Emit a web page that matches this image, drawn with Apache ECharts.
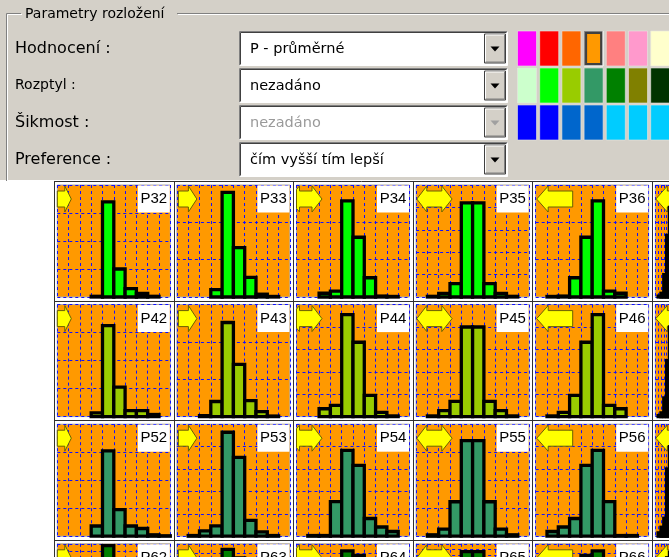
<!DOCTYPE html>
<html>
<head>
<meta charset="utf-8">
<script src="https://cdn.jsdelivr.net/npm/echarts@6/dist/echarts.min.js"></script>
<style>
  html, body { margin: 0; padding: 0; background: #ffffff; }
  #main { width: 669px; height: 557px; }
</style>
</head>
<body>
<div id="main"></div>
<script>
// ---- data -------------------------------------------------------------
// ten classes of every distribution
const binLabels = ['1', '2', '3', '4', '5', '6', '7', '8', '9', '10'];

// names of the distributions, one list per grid row
const rowNames = [
  ['P32', 'P33', 'P34', 'P35', 'P36', 'P37'],
  ['P42', 'P43', 'P44', 'P45', 'P46', 'P47'],
  ['P52', 'P53', 'P54', 'P55', 'P56', 'P57'],
  ['P62', 'P63', 'P64', 'P65', 'P66', 'P67']
];

// probabilities (%) of the classes
const p32 = [0, 0, 0, 0.5, 68, 20, 6, 2.5, 0.5, 0];
const p33 = [0, 0, 0, 4, 56, 26.5, 10.5, 1.5, 0.3, 0];
const p34 = [0, 0, 2, 3.2, 51.5, 32, 10.3, 0.5, 0.3, 0];
const p35 = [0, 0.3, 1.6, 6, 42, 42, 6, 1.6, 0.3, 0];
const p36 = [0, 0.3, 0.5, 10.3, 32, 51.5, 3.2, 2, 0, 0];
const p37 = [0, 0.5, 2, 12, 33, 48, 3, 1, 0, 0];

const p42 = [0, 0, 0, 2.7, 65, 21, 4.3, 4.3, 1.5, 0];
const p43 = [0, 0, 0.5, 8.1, 50.4, 28, 8.6, 2.7, 0.3, 0];
const p44 = [0, 0, 3.5, 5, 45.5, 33.2, 9.5, 1.9, 0.3, 0];
const p45 = [0, 0.3, 2.7, 6.8, 40, 40, 6.8, 2.7, 0.3, 0];
const p46 = [0, 0.3, 1.9, 9.5, 33.2, 45.5, 5, 3.5, 0, 0];
const p47 = [0, 0.5, 2, 10, 30, 48, 6, 3, 0, 0];

const p52 = [0, 0, 0, 7.3, 61, 19, 7.3, 5.5, 1, 0.3];
const p53 = [0, 0.3, 2.4, 4.6, 46.4, 35.2, 7.1, 1.9, 0.3, 0];
const p54 = [0, 0.3, 0.3, 15.4, 38.3, 31.6, 7.9, 4.1, 2.1, 0];
const p55 = [0, 0.5, 2.5, 12.3, 34.1, 34.1, 12.3, 2.5, 0.5, 0];
const p56 = [0, 2.1, 4.1, 7.9, 31.6, 38.3, 15.4, 0.3, 0.3, 0];
const p57 = [0, 1.5, 4, 8, 30, 40, 15, 1, 0, 0];

const p62 = [0, 0, 0, 3, 75, 14, 5, 2, 0.5, 0];
const p63 = [0, 0, 0, 5, 48, 30, 12, 3, 0.5, 0];
const p64 = [0, 0, 2, 5, 45, 35, 10, 2, 0.5, 0];
const p65 = [0, 0.5, 3, 10, 36, 36, 10, 3, 0.5, 0];
const p66 = [0, 0.5, 2, 10, 35, 45, 5, 2, 0, 0];
const p67 = [0, 1, 3, 8, 30, 42, 14, 1, 0, 0];

const rowValues = [
  [p32, p33, p34, p35, p36, p37],
  [p42, p43, p44, p45, p46, p47],
  [p52, p53, p54, p55, p56, p57],
  [p62, p63, p64, p65, p66, p67]
];

// value-axis range and step of every histogram
const rowMax = [
  [80, 60, 60, 50, 60, 60],
  [80, 60, 50, 50, 50, 60],
  [80, 50, 50, 40, 50, 50],
  [80, 60, 60, 50, 60, 60]
];
const rowStep = [
  [20, 20, 20, 10, 20, 20],
  [20, 20, 10, 10, 10, 20],
  [20, 10, 10, 10, 10, 10],
  [20, 20, 20, 10, 20, 20]
];

// bar colour of each row
const rowColors = ['#00ff00', '#99cc00', '#339966', '#008000'];

// form texts
const fieldLabels = ['Hodnocení :', 'Rozptyl :', 'Šikmost :', 'Preference :'];
const fieldValues = ['P - průměrné', 'nezadáno', 'nezadáno', 'čím vyšší tím lepší'];
const groupTitle = 'Parametry rozložení';

// colour palette
const paletteRows = [
  ['#ff00ff', '#ff0000', '#ff6600', '#ff9900', '#ff8080', '#ff99cc', '#ffffcc'],
  ['#ccffcc', '#00ff00', '#99cc00', '#339966', '#008000', '#808000', '#003300'],
  ['#0000ff', '#0000ff', '#0066cc', '#0066cc', '#00ccff', '#00ccff', '#00ccff']
];

// ---- layout -----------------------------------------------------------
const CELL = 119.6, GX = 54, GY = 181;
const PADL = 3.3, PADT = 4, PW = 113, PH = 112;
const FACE = '#d4d0c8';

const chart = echarts.init(document.getElementById('main'), null, { renderer: 'canvas' });

const grids = [], xAxes = [], yAxes = [], series = [], graphics = [];

// ---- dialog panel ----
graphics.push({ type: 'rect', shape: { x: 0, y: 0, width: 669, height: 180 }, style: { fill: FACE }, z: 0, silent: true });

// etched group frame
const etched = (pts) => {
  graphics.push({ type: 'polyline', shape: { points: pts }, style: { stroke: '#808080', lineWidth: 1, fill: null }, silent: true, z: 1 });
  graphics.push({ type: 'polyline', shape: { points: pts.map(p => [p[0] + 1, p[1] + 1]) }, style: { stroke: '#ffffff', lineWidth: 1, fill: null }, silent: true, z: 1 });
};
etched([[21, 13.5], [6.5, 13.5], [6.5, 181]]);
etched([[177, 13.5], [670, 13.5]]);
graphics.push({ type: 'text', x: 25, y: 14, style: { text: groupTitle, font: '14px "DejaVu Sans"', fill: '#000', textVerticalAlign: 'middle' }, silent: true, z: 2 });

const labelFonts = ['16px "DejaVu Sans"', '14px "DejaVu Sans"', '16px "DejaVu Sans"', '16px "DejaVu Sans"'];
const comboTop = [31.5, 68.5, 105.5, 142.5];
fieldLabels.forEach((t, i) => {
  graphics.push({ type: 'text', x: 15, y: comboTop[i] + 17, style: { text: t, font: labelFonts[i], fill: '#000', textVerticalAlign: 'middle' }, silent: true, z: 2 });
});

// sunken combo boxes with a drop-down button
fieldValues.forEach((t, i) => {
  const x0 = 239.5, y0 = comboTop[i], w = 268, h = 34;
  const disabled = i === 2;
  graphics.push({ type: 'rect', shape: { x: x0, y: y0, width: w, height: h }, style: { fill: '#ffffff' }, silent: true, z: 1 });
  graphics.push({ type: 'polyline', shape: { points: [[x0, y0 + h], [x0, y0], [x0 + w, y0]] }, style: { stroke: '#808080', lineWidth: 1, fill: null }, silent: true, z: 2 });
  graphics.push({ type: 'polyline', shape: { points: [[x0 + 1, y0 + h - 1], [x0 + 1, y0 + 1], [x0 + w - 1, y0 + 1]] }, style: { stroke: '#404040', lineWidth: 1, fill: null }, silent: true, z: 2 });
  graphics.push({ type: 'polyline', shape: { points: [[x0, y0 + h], [x0 + w, y0 + h], [x0 + w, y0]] }, style: { stroke: '#ffffff', lineWidth: 1, fill: null }, silent: true, z: 2 });
  // button
  const bx = 484.5, by = y0 + 2.5, bw = 21, bh = h - 5;
  graphics.push({ type: 'rect', shape: { x: bx, y: by, width: bw, height: bh }, style: { fill: FACE, stroke: '#404040', lineWidth: 1 }, silent: true, z: 2 });
  graphics.push({ type: 'polyline', shape: { points: [[bx + 1, by + bh - 1], [bx + 1, by + 1], [bx + bw - 1, by + 1]] }, style: { stroke: '#ffffff', lineWidth: 1, fill: null }, silent: true, z: 3 });
  graphics.push({ type: 'polyline', shape: { points: [[bx + 1, by + bh - 1], [bx + bw - 1, by + bh - 1], [bx + bw - 1, by + 1]] }, style: { stroke: '#808080', lineWidth: 1, fill: null }, silent: true, z: 3 });
  const cx = bx + bw / 2, cy = by + bh / 2 + 0.5;
  graphics.push({ type: 'polygon', shape: { points: [[cx - 4.5, cy - 2.5], [cx + 4.5, cy - 2.5], [cx, cy + 2.5]] }, style: { fill: disabled ? '#a0a0a0' : '#000000' }, silent: true, z: 3 });
  graphics.push({ type: 'text', x: 250, y: y0 + h / 2 + 0.5, style: { text: t, font: '14.5px "DejaVu Sans"', fill: disabled ? '#9a9a9a' : '#000', textVerticalAlign: 'middle' }, silent: true, z: 3 });
});

// colour swatches
paletteRows.forEach((row, r) => {
  row.forEach((c, k) => {
    const x = 517.5 + 22.2 * k, y = 31 + 37 * r;
    if (r === 0 && k === 3) {
      graphics.push({ type: 'rect', shape: { x: x, y: y, width: 19, height: 35 }, style: { fill: '#808080' }, silent: true, z: 2 });
      graphics.push({ type: 'rect', shape: { x: x + 1, y: y + 1, width: 17, height: 33 }, style: { fill: '#404040' }, silent: true, z: 2 });
      graphics.push({ type: 'rect', shape: { x: x + 3, y: y + 3, width: 13, height: 29 }, style: { fill: c }, silent: true, z: 3 });
      graphics.push({ type: 'polyline', shape: { points: [[x + 19, y], [x + 19, y + 35], [x, y + 35]] }, style: { stroke: '#ffffff', lineWidth: 1, fill: null }, silent: true, z: 3 });
    } else {
      graphics.push({ type: 'rect', shape: { x: x, y: y, width: 19, height: 35 }, style: { fill: c, stroke: '#e8e6e0', lineWidth: 0.6 }, silent: true, z: 2 });
    }
  });
});

// ---- grid of histograms ----
// cell borders
for (let r = 0; r < 4; r++) {
  const y = Math.round(GY + CELL * r) + 0.5;
  graphics.push({ type: 'line', shape: { x1: GX, y1: y, x2: 669, y2: y }, style: { stroke: '#303030', lineWidth: 1 }, silent: true, z: 1 });
}
for (let c = 0; c < 6; c++) {
  const x = Math.round(GX + CELL * c) + 0.5;
  graphics.push({ type: 'line', shape: { x1: x, y1: GY, x2: x, y2: 557 }, style: { stroke: '#303030', lineWidth: 1 }, silent: true, z: 1 });
}

// arrow outlines per grid column, x relative to plot left, y relative to arrow axis
const arrowShapes = [
  [[-12, -8], [7.5, -8], [7.5, -13], [14, 0], [7.5, 13], [7.5, 8], [-12, 8]],
  [[1.5, -8], [11.5, -8], [11.5, -13], [20, 0], [11.5, 13], [11.5, 8], [1.5, 8]],
  [[0, -9.5], [3, -13], [3, -8], [15.5, -8], [15.5, -13], [25.5, 0], [15.5, 13], [15.5, 8], [3, 8], [3, 13], [0, 9.5]],
  [[0.7, 0], [10.7, -13], [10.7, -8], [25.7, -8], [25.7, -13], [36, 0], [25.7, 13], [25.7, 8], [10.7, 8], [10.7, 13]],
  [[1, 0], [12.5, -13], [12.5, -8], [37, -8], [37, 8], [12.5, 8], [12.5, 13]],
  [[0.5, 0], [12, -13], [12, -8], [37, -8], [37, 8], [12, 8], [12, 13]]
];

// histogram columns: each class fills its whole band, outlined in black
const histogramItem = (color) => (params, api) => {
  const top = api.coord([api.value(0), api.value(1)]);
  const base = api.coord([api.value(0), 0]);
  const bw = api.size([1, 0])[0];
  return {
    type: 'rect',
    shape: { x: top[0] - bw / 2, y: top[1], width: bw, height: base[1] - top[1] },
    style: { fill: color, stroke: '#000000', lineWidth: 3.3 }
  };
};

let gi = 0;
for (let r = 0; r < 4; r++) {
  for (let c = 0; c < 6; c++) {
    const pl = GX + CELL * c + PADL;
    const pt = GY + CELL * r + PADT;
    grids.push({
      left: pl, top: pt, width: PW, height: PH,
      show: true, backgroundColor: '#ff9900', borderColor: '#a8a8a8', borderWidth: 1,
      containLabel: false
    });
    const split = { show: true, lineStyle: { color: '#1010ff', width: 1, type: [3, 3] } };
    xAxes.push({
      gridIndex: gi, type: 'category', data: binLabels, boundaryGap: true,
      axisLine: { show: false }, axisTick: { show: false }, axisLabel: { show: false },
      splitLine: Object.assign({ interval: 0 }, split)
    });
    yAxes.push({
      gridIndex: gi, type: 'value', min: 0, max: rowMax[r][c], interval: rowStep[r][c],
      axisLine: { show: false }, axisTick: { show: false }, axisLabel: { show: false },
      splitLine: split
    });
    const pairs = [];
    rowValues[r][c].forEach((v, k) => { if (v > 0) pairs.push([k, v]); });
    series.push({
      type: 'custom', name: rowNames[r][c], xAxisIndex: gi, yAxisIndex: gi,
      data: pairs, encode: { x: 0, y: 1 },
      renderItem: histogramItem(rowColors[r]),
      silent: true, animation: false, z: 4
    });

    // name tag in the upper right corner
    graphics.push({ type: 'rect', shape: { x: pl + 80.5, y: pt + 0.5, width: 32, height: 27 }, style: { fill: '#ffffff' }, silent: true, z: 3 });
    graphics.push({ type: 'text', x: pl + 96.5, y: pt + 14, style: { text: rowNames[r][c], font: '15px "Liberation Sans"', fill: '#000', textAlign: 'center', textVerticalAlign: 'middle' }, silent: true, z: 3 });

    // preference arrow, cut at the plot edge
    const cy = pt + 14;
    const pts = arrowShapes[c].map(p => [pl + Math.max(p[0], 0), cy + p[1]]);
    graphics.push({ type: 'polygon', shape: { points: pts }, style: { fill: '#ffff00', stroke: '#6b6000', lineWidth: 1 }, silent: true, z: 3 });
    gi++;
  }
}

chart.setOption({
  animation: false,
  backgroundColor: '#ffffff',
  grid: grids,
  xAxis: xAxes,
  yAxis: yAxes,
  series: series,
  graphic: { elements: graphics }
});
</script>
</body>
</html>
